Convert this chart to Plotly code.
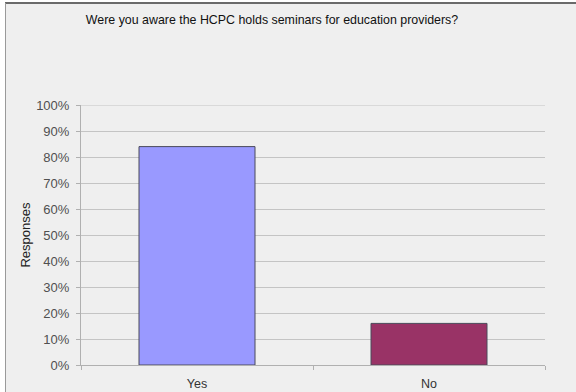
import plotly.graph_objects as go

# Survey responses
categories = ["Yes", "No"]
shares = [0.84, 0.16]
bar_colors = ["#9999ff", "#993366"]
y_ticks = [i / 10 for i in range(11)]
y_tick_labels = [f"{i * 10}%" for i in range(11)]

W, H = 576, 392
L, R, T, B = 81, 31, 105, 27
pw, ph = W - L - R, H - T - B
GRID = "#c4c4c4"


def px_x(px):
    return (px - L) / pw


def px_y(py):
    return (H - B - py) / ph


fig = go.Figure(
    go.Bar(
        x=categories,
        y=shares,
        width=0.5,
        marker=dict(color=bar_colors, line=dict(color="#4a4a5a", width=1)),
        showlegend=False,
        hoverinfo="skip",
    )
)

font = "Liberation Sans, Arial, sans-serif"

fig.update_layout(
    width=W,
    height=H,
    margin=dict(l=L, r=R, t=T, b=B),
    paper_bgcolor="#efefef",
    plot_bgcolor="#efefef",
    font=dict(family=font, size=12, color="#444444"),
    title=dict(
        text="Were you aware the HCPC holds seminars for education providers?",
        font=dict(family=font, size=12.4, color="#111111"),
        xref="container",
        x=272 / W,
        xanchor="center",
        yref="container",
        y=1 - 20 / H,
        yanchor="middle",
    ),
    xaxis=dict(
        type="category",
        automargin=False,
        showgrid=False,
        showline=True,
        linecolor="#b0b0b0",
        ticks="outside",
        tickson="boundaries",
        ticklen=4,
        tickcolor="#b0b0b0",
        ticklabelstandoff=7,
        tickfont=dict(size=12.5, color="#333333"),
        fixedrange=True,
    ),
    yaxis=dict(
        automargin=False,
        range=[0, 1],
        tickvals=y_ticks,
        ticktext=y_tick_labels,
        showgrid=True,
        gridcolor=GRID,
        gridwidth=1,
        zeroline=False,
        showline=True,
        linecolor="#b0b0b0",
        ticks="outside",
        ticklen=4,
        tickcolor="#b0b0b0",
        ticklabelstandoff=4,
        tickfont=dict(size=13, color="#505050"),
        title=dict(text="Responses", font=dict(size=13, color="#222222"), standoff=2),
        fixedrange=True,
    ),
    shapes=[
        # top gridline at 100%
        dict(type="line", xref="paper", yref="y", x0=0, x1=1, y0=1, y1=1,
             line=dict(color=GRID, width=1), layer="below"),
        # white margin strips outside the chart frame
        dict(type="rect", xref="paper", yref="paper", x0=px_x(0), x1=px_x(W),
             y0=px_y(2), y1=px_y(0), fillcolor="white", line=dict(width=0), layer="below"),
        dict(type="rect", xref="paper", yref="paper", x0=px_x(0), x1=px_x(5),
             y0=px_y(H), y1=px_y(0), fillcolor="white", line=dict(width=0), layer="below"),
        # frame edges
        dict(type="line", xref="paper", yref="paper", x0=px_x(5), x1=px_x(W),
             y0=px_y(3), y1=px_y(3), line=dict(color="#6a6a6a", width=2)),
        dict(type="line", xref="paper", yref="paper", x0=px_x(5.5), x1=px_x(5.5),
             y0=px_y(3), y1=px_y(H), line=dict(color="#9a9a9a", width=1)),
    ],
)

fig.write_html("out.html")
